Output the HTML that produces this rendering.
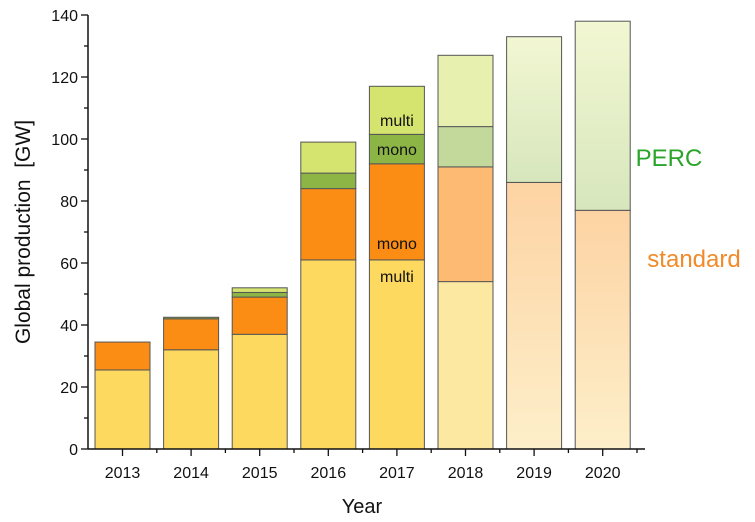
<!DOCTYPE html>
<html><head><meta charset="utf-8"><style>
body{margin:0;background:#fff;}
svg{display:block;font-family:"Liberation Sans",sans-serif;}
</style></head><body>
<svg id="c" width="755" height="522">
<defs>
<linearGradient id="gPerc" x1="0" y1="0" x2="0" y2="1"><stop offset="0" stop-color="#f2f7d2"/><stop offset="1" stop-color="#d7e6bd"/></linearGradient>
<linearGradient id="gStd" x1="0" y1="0" x2="0" y2="1"><stop offset="0" stop-color="#fdd3a3"/><stop offset="1" stop-color="#fdefca"/></linearGradient>
</defs>
</svg>
<script>
const years=["2013","2014","2015","2016","2017","2018","2019","2020"];
const stdMulti=[25.5,32,37,61,61,54,null,null];
const stdMono=[9,10,12,23,31,37,null,null];
const percMono=[0,0.5,1.5,5,9.5,13,null,null];
const percMulti=[0,0,1.5,10,15.5,23,null,null];
const stdTotal=[null,null,null,null,null,null,86,77];
const percTotal=[null,null,null,null,null,null,47,61];
const yTicks=[0,20,40,60,80,100,120,140];

const svg=document.getElementById('c');
const NS='http://www.w3.org/2000/svg';
const x0=88,y0=449,yTop=15,yMax=140;
const y=v=>y0-(v/yMax)*(y0-yTop);
const step=68.6,bw=55;
const xc=i=>122.5+i*step;
function el(t,a,p){const e=document.createElementNS(NS,t);for(const k in a)e.setAttribute(k,a[k]);(p||svg).appendChild(e);return e;}
function rect(i,b,h,fill,name){
  if(h<=0)return;
  const r=el('rect',{x:xc(i)-bw/2,y:y(b+h),width:bw,height:y(b)-y(b+h),fill:fill,stroke:'#555',"stroke-width":1});
  
  
}
years.forEach((yr,i)=>{
  const light=i===5;
  if(stdMulti[i]!==null){
    let b=0;
    rect(i,b,stdMulti[i],light?'#fde8a2':'#fdd95f','bar-'+yr+'-standard-multi');b+=stdMulti[i];
    rect(i,b,stdMono[i],light?'#fdba72':'#fb8c14','bar-'+yr+'-standard-mono');b+=stdMono[i];
    rect(i,b,percMono[i],light?'#c2d99b':'#8cb546','bar-'+yr+'-perc-mono');b+=percMono[i];
    rect(i,b,percMulti[i],light?'#e7f0af':'#d5e46f','bar-'+yr+'-perc-multi');
  } else {
    rect(i,0,stdTotal[i],'url(#gStd)','bar-'+yr+'-standard');
    rect(i,stdTotal[i],percTotal[i],'url(#gPerc)','bar-'+yr+'-perc');
  }
  const t=el('text',{x:xc(i),y:478,"font-size":16,"text-anchor":"middle",fill:'#111'});
  t.textContent=yr;
  
  
  el('line',{x1:xc(i),x2:xc(i),y1:y0,y2:y0+7,stroke:'#111',"stroke-width":1.3});
  el('line',{x1:xc(i)+step/2,x2:xc(i)+step/2,y1:y0,y2:y0+4,stroke:'#111',"stroke-width":1.3});
});
const ax=el('line',{x1:x0,x2:x0,y1:yTop,y2:y0,stroke:'#111',"stroke-width":1.5});

const bx=el('line',{x1:x0,x2:645,y1:y0,y2:y0,stroke:'#111',"stroke-width":1.5});

yTicks.forEach(v=>{
  el('line',{x1:x0-7,x2:x0,y1:y(v),y2:y(v),stroke:'#111',"stroke-width":1.3});
  if(v<140) el('line',{x1:x0-4,x2:x0,y1:y(v+10),y2:y(v+10),stroke:'#111',"stroke-width":1.3});
  const t=el('text',{x:x0-10,y:y(v)+6,"font-size":16,"text-anchor":"end",fill:'#111'});
  t.textContent=v;
  
  
});
function label(txt,xx,yy,size,fill,name,rot){
  const a={x:xx,y:yy,"font-size":size,"text-anchor":"middle",fill:fill};
  if(rot)a.transform='rotate(-90 '+xx+' '+yy+')';
  const t=el('text',a);t.textContent=txt;
  
  
}
label('Year',362,513,20,'#111','x-axis-title');
label('Global production\u00a0\u00a0[GW]',30,232,21,'#111','y-axis-title',true);
const c=xc(4);
label('multi',c,126,16,'#111','label-perc-multi');
label('mono',c,155,16,'#111','label-perc-mono');
label('mono',c,249,16,'#111','label-std-mono');
label('multi',c,282,16,'#111','label-std-multi');
label('PERC',669,166,24,'#2aa52a','legend-perc');
label('standard',694,267,24,'#f08a2a','legend-standard');
</script>
</body></html>
